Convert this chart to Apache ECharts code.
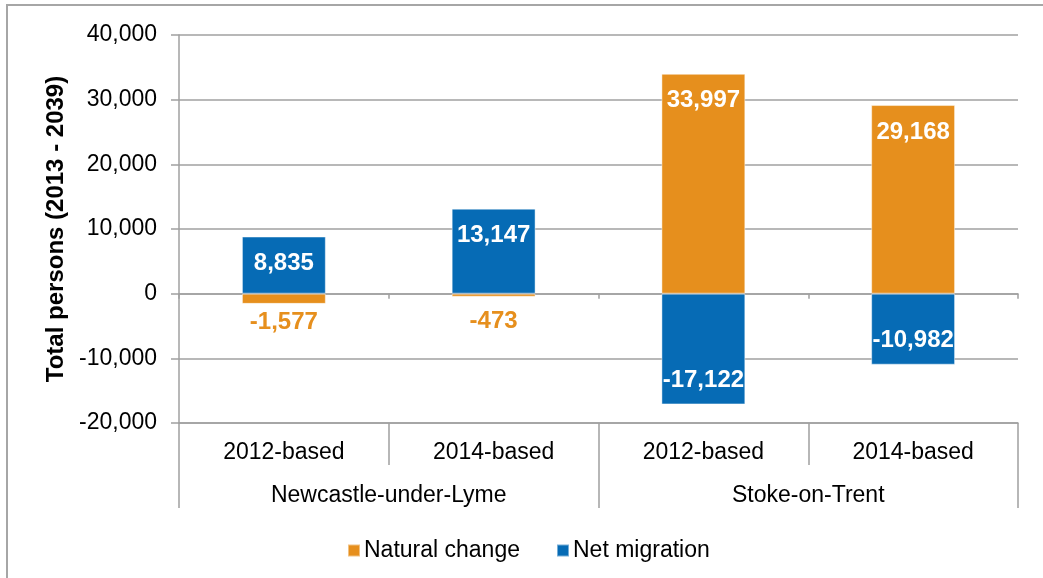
<!DOCTYPE html>
<html>
<head>
<meta charset="utf-8">
<script src="https://cdn.jsdelivr.net/npm/echarts@6/dist/echarts.min.js"></script>
<style>
  html, body { margin: 0; padding: 0; background: #fff; }
  #chart { width: 1043px; height: 578px; }
</style>
</head>
<body>
<div id="chart"></div>
<script>
// Projection categories and their area groups
const projections = ['2012-based', '2014-based', '2012-based', '2014-based'];
const areas = ['Newcastle-under-Lyme', 'Stoke-on-Trent'];

// Components of population change, 2013 - 2039
const naturalChange = [-1577, -473, 33997, 29168];
const netMigration = [8835, 13147, -17122, -10982];

const yTicks = { min: -20000, max: 40000, interval: 10000 };

const ORANGE = '#E68F1D';
const BLUE = '#066BB5';
const AXIS_GREY = '#A0A0A0';
const FONT = '"Liberation Sans", Arial, sans-serif';

const fmt = v => v.toLocaleString('en-GB');

// Label placement: inside the bar end when the bar is tall enough, below otherwise
function labelFor(v, color, small, dist) {
  if (small) {
    return { show: true, position: 'bottom', distance: dist, color: color };
  }
  return {
    show: true,
    position: v >= 0 ? 'insideTop' : 'insideBottom',
    distance: v >= 0 ? 15 : 12,
    color: '#fff'
  };
}

const naturalData = naturalChange.map(v => ({
  value: v,
  label: labelFor(v, ORANGE, Math.abs(v) < 3000, v < -1000 ? 7 : 13)
}));
const migrationData = netMigration.map(v => ({
  value: v,
  label: labelFor(v, BLUE, false, 0)
}));

const chart = echarts.init(document.getElementById('chart'), null, { renderer: 'canvas' });

const barLabelBase = {
  fontFamily: FONT,
  fontSize: 24,
  fontWeight: 'bold',
  formatter: p => fmt(p.value)
};

chart.setOption({
  animation: false,
  backgroundColor: '#fff',
  textStyle: { fontFamily: FONT },
  grid: { left: 179, right: 25, top: 35, bottom: 155, containLabel: false },
  graphic: [{
    type: 'rect',
    shape: { x: 7, y: 5, width: 1100, height: 700 },
    style: { fill: null, stroke: '#A6A6A6', lineWidth: 2 },
    silent: true,
    z: -10
  }],
  legend: {
    bottom: 16,
    left: 347,
    padding: 0,
    itemWidth: 12,
    itemHeight: 12,
    itemGap: 36,
    icon: 'rect',
    textStyle: { fontFamily: FONT, fontSize: 23, color: '#000', padding: [0, 0, 0, -1] },
    data: ['Natural change', 'Net migration']
  },
  xAxis: [
    {
      // axis line at zero with short tick marks
      type: 'category',
      data: projections,
      axisLine: { onZero: true, lineStyle: { color: AXIS_GREY, width: 1.5 } },
      axisTick: { show: true, length: 5, lineStyle: { color: AXIS_GREY, width: 1.5 } },
      axisLabel: { show: false }
    },
    {
      // projection labels along the bottom
      type: 'category',
      data: projections,
      position: 'bottom',
      axisLine: { onZero: false, show: true, lineStyle: { color: AXIS_GREY, width: 1.5 } },
      axisTick: { show: true, length: 42, interval: 0, lineStyle: { color: AXIS_GREY, width: 1.5 } },
      axisLabel: { show: true, interval: 0, margin: 18, fontFamily: FONT, fontSize: 23, color: '#000' }
    },
    {
      // area group labels
      type: 'category',
      data: areas,
      position: 'bottom',
      axisLine: { onZero: false, show: false },
      axisTick: { show: true, length: 85, interval: 0, lineStyle: { color: AXIS_GREY, width: 1.5 } },
      axisLabel: { show: true, interval: 0, margin: 61, fontFamily: FONT, fontSize: 23, color: '#000' }
    }
  ],
  yAxis: {
    type: 'value',
    min: yTicks.min,
    max: yTicks.max,
    interval: yTicks.interval,
    name: 'Total persons (2013 - 2039)',
    nameLocation: 'middle',
    nameGap: 100,
    nameTextStyle: { fontFamily: FONT, fontSize: 24, fontWeight: 'bold', color: '#000' },
    axisLine: { show: true, lineStyle: { color: AXIS_GREY, width: 1.5 } },
    axisTick: { show: true, length: 8, lineStyle: { color: AXIS_GREY, width: 1.5 } },
    axisLabel: { margin: 22, fontFamily: FONT, fontSize: 23, color: '#000', formatter: v => fmt(v) },
    splitLine: { show: true, lineStyle: { color: AXIS_GREY, width: 1.5 } }
  },
  series: [
    {
      name: 'Natural change',
      type: 'bar',
      stack: 'total',
      xAxisIndex: 0,
      barWidth: '40%',
      itemStyle: { color: ORANGE, borderColor: 'rgba(255,255,255,0.45)', borderWidth: 1 },
      label: barLabelBase,
      data: naturalData
    },
    {
      name: 'Net migration',
      type: 'bar',
      stack: 'total',
      xAxisIndex: 0,
      barWidth: '40%',
      itemStyle: { color: BLUE, borderColor: 'rgba(255,255,255,0.45)', borderWidth: 1 },
      label: barLabelBase,
      data: migrationData
    }
  ]
});
</script>
</body>
</html>
